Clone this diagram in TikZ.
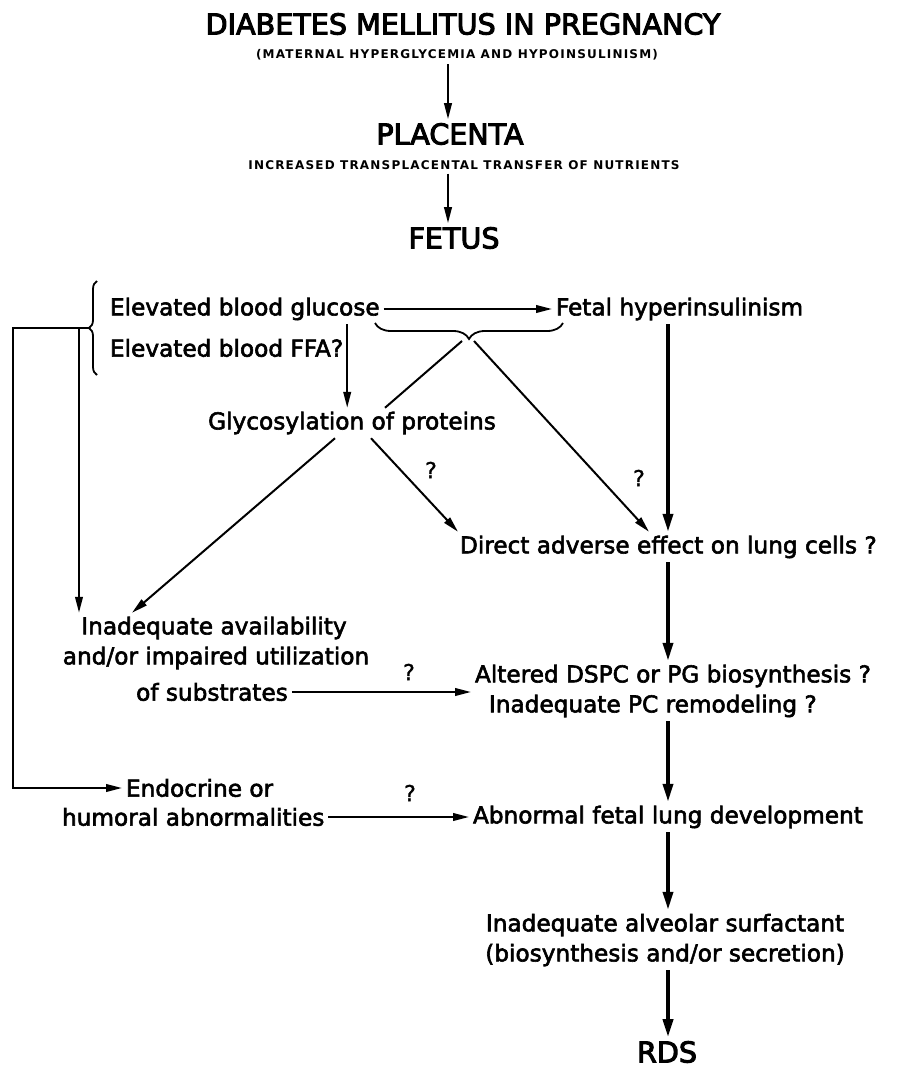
\documentclass[tikz,border=0pt]{standalone}
\usepackage{fontspec}
\setmainfont{DejaVu Sans}
\usetikzlibrary{arrows.meta,positioning,calc,decorations.pathreplacing}

\tikzset{
  txt/.style={inner sep=2pt, outer sep=0pt, font=\fontsize{11.6}{15}\selectfont\addfontfeature{FakeBold=2.5}},
  ttl/.style={inner sep=2pt, outer sep=0pt, font=\fontsize{14.3}{17}\selectfont\addfontfeature{FakeBold=3.5}},
  caps/.style={inner sep=2pt, outer sep=0pt, font=\fontsize{6}{8}\selectfont\bfseries\addfontfeature{LetterSpace=10}},
  qm/.style={inner sep=0pt, font=\fontsize{11}{13}\selectfont\addfontfeature{FakeBold=1.5}},
  ln/.style={line width=1pt},
  arr/.style={-{Triangle[length=8pt,width=3.8pt]}, line width=1pt},
  tharr/.style={-{Triangle[length=9pt,width=5pt]}, line width=1.8pt},
  brc/.style={decorate, decoration={brace, amplitude=4pt, aspect=0.5}, line width=0.9pt},
}

\begin{document}
\begin{tikzpicture}[x=0.5pt, y=-0.5pt]
    \useasboundingbox (0,0) rectangle (909,1070);
    % guide lines for the connectors
    \coordinate (axis) at (448,0);
    \coordinate (spine) at (668,0);
    \coordinate (rail) at (13,0);
    \coordinate (rail2) at (79,0);

    % top of the chart
    \node[ttl] (dm) at (463,24) {DIABETES MELLITUS IN PREGNANCY};
    \node[caps] (matl) at (457,55) {(MATERNAL HYPERGLYCEMIA AND HYPOINSULINISM)};
    \node[ttl] (plac) at (450,134) {PLACENTA};
    \node[caps] (transf) at (464,165) {INCREASED TRANSPLACENTAL TRANSFER OF NUTRIENTS};
    \node[ttl] (fetus) at (454,238) {FETUS};
    \draw[arr] (axis |- matl.south) -- (axis |- plac.north);
    \draw[arr] (axis |- transf.south) -- (axis |- fetus.north);

    % fetal factors
    \node[txt,anchor=west] (gluc) at (106,309) {Elevated blood glucose};
    \node[txt,anchor=west] (ffa) at (106,348) {Elevated blood FFA?};
    \node[txt,anchor=west] (fhyp) at (552,309) {Fetal hyperinsulinism};
    \node[txt] (glyc) at (352,423) {Glycosylation of proteins};
    \draw[brc] (97,375) -- (97,281);
    \coordinate (lbtip) at (89,328);
    \draw[arr] (gluc.east) -- (fhyp.west);
    \draw[brc, decoration={amplitude=8pt}] (563,323) -- (375,323);
    \coordinate (ubtip) at (468,341);
    \draw[arr] (ffa.east |- gluc.south) -- (ffa.east |- glyc.north);
    \draw[ln] ([xshift=-3pt]ubtip) -- (385,0 |- glyc.north);

    % lung cells
    \node[txt,anchor=west] (dir) at (456,547) {Direct adverse effect on lung cells ?};
    \node[qm] (q1) at (431,470) {?};
    \node[qm] (q2) at (639,478) {?};
    \draw[arr] ([xshift=3pt]ubtip) -- (649,0 |- dir.north);
    \draw[arr] (371,0 |- glyc.south) -- (458,0 |- dir.north);
    \draw[tharr] (spine |- fhyp.south) -- (spine |- dir.north);

    % substrates
    \node[txt] (avail1) at (214,628) {Inadequate availability};
    \node[txt] (avail2) at (216,658) {and/or impaired utilization};
    \node[txt] (avail3) at (212,692) {of substrates};
    \node[txt,anchor=west,align=left] (alt) at (471,691) {Altered DSPC or PG biosynthesis ?\\\hspace*{0.6em}Inadequate PC remodeling ?};
    \node[qm] (q3) at (409,672) {?};
    \draw[arr] (335,0 |- glyc.south) -- (132,0 |- avail1.north);
    \draw[arr] (rail2 |- lbtip) -- (rail2 |- avail1.north);
    \draw[arr] (avail3.east) -- (alt.west |- avail3.east);
    \draw[tharr] (spine |- dir.south) -- (spine |- alt.north);

    % endocrine branch
    \node[txt,anchor=west] (endo1) at (122,788) {Endocrine or};
    \node[txt,anchor=west] (endo2) at (58,817) {humoral abnormalities};
    \node[txt,anchor=west] (abn) at (469,817) {Abnormal fetal lung development};
    \node[qm] (q4) at (410,793) {?};
    \draw[arr] (lbtip) -- (rail |- lbtip) |- (endo1.west);
    \draw[arr] (endo2.east) -- (abn.west);
    \draw[tharr] (spine |- alt.south) -- (spine |- abn.north);

    % outcome
    \node[txt,align=center] (surf) at (665,940) {Inadequate alveolar surfactant\\(biosynthesis and/or secretion)};
    \node[ttl] (rds) at (667,1052) {RDS};
    \draw[tharr] (spine |- abn.south) -- (spine |- surf.north);
    \draw[tharr] (spine |- surf.south) -- (spine |- rds.north);
\end{tikzpicture}
\end{document}
